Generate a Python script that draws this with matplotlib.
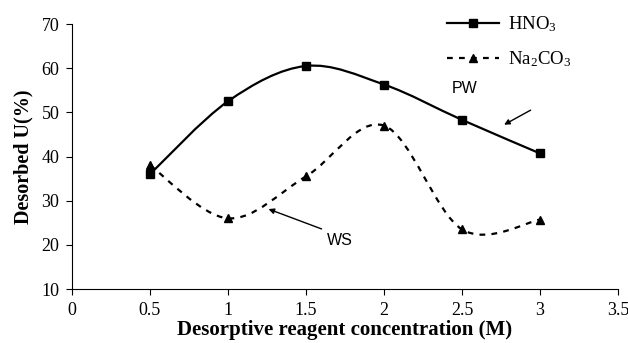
import matplotlib
matplotlib.use("Agg")
import matplotlib.pyplot as plt
import numpy as np
from matplotlib.path import Path
from matplotlib.patches import PathPatch

conc = [0.5, 1.0, 1.5, 2.0, 2.5, 3.0]
hno3 = [36.0, 52.5, 60.5, 56.3, 48.3, 40.7]
na2co3 = [38.0, 26.0, 35.5, 47.0, 23.5, 25.7]

x_ticks = [0, 0.5, 1, 1.5, 2, 2.5, 3, 3.5]
y_ticks = [10, 20, 30, 40, 50, 60, 70]

SERIF = ["Liberation Serif", "DejaVu Serif"]
SANS = ["Liberation Sans", "DejaVu Sans"]

plt.rcParams.update({
    "mathtext.fontset": "custom",
    "mathtext.rm": "Liberation Serif",
    "mathtext.it": "Liberation Serif:italic",
    "mathtext.bf": "Liberation Serif:bold",
})

DASH = (2.6, 2.8)


def smooth_path(x, y):
    """Excel-style smoothed line: cubic Bezier through every point."""
    pts = np.column_stack([x, y])
    n = len(pts)
    verts = [pts[0]]
    codes = [Path.MOVETO]
    for i in range(n - 1):
        p0 = pts[max(i - 1, 0)]
        p1 = pts[i]
        p2 = pts[i + 1]
        p3 = pts[min(i + 2, n - 1)]
        verts += [p1 + (p2 - p0) / 6.0, p2 - (p3 - p1) / 6.0, p2]
        codes += [Path.CURVE4] * 3
    return Path(verts, codes)


fig = plt.figure(figsize=(6.28, 3.43), dpi=100)
ax = fig.add_axes([0.1146, 0.1574, 0.8695, 0.7726])

ax.add_patch(PathPatch(smooth_path(conc, hno3), fill=False, lw=1.6,
                       color="black", capstyle="butt"))
ax.add_patch(PathPatch(smooth_path(conc, na2co3), fill=False, lw=1.6,
                       color="black", linestyle=(0, DASH)))
ax.plot(conc, hno3, "s", color="black", ms=5.5)
ax.plot(conc, na2co3, "^", color="black", ms=6)

# legend proxies
ax.plot([], [], "-s", color="black", lw=1.6, ms=5.5, label="HNO$_3$")
ax.plot([], [], "--^", color="black", lw=1.6, ms=6, dashes=DASH,
        label="Na$_2$CO$_3$")
ax.legend(loc="upper left", bbox_to_anchor=(0.655, 1.10), frameon=False,
          handlelength=2.8, handletextpad=0.5, labelspacing=0.8,
          prop={"family": SERIF, "size": 13.5})

arrow = dict(arrowstyle="-|>", color="black", lw=1.0, shrinkA=0, shrinkB=0,
             mutation_scale=8)
ax.annotate("", xy=(2.77, 47.2), xytext=(2.94, 50.5), arrowprops=arrow)
ax.text(2.52, 55.5, "PW", fontsize=11.5, family=SANS, ha="center", va="center")
ax.annotate("", xy=(1.26, 28.1), xytext=(1.60, 23.6), arrowprops=arrow)
ax.text(1.72, 20.9, "WS", fontsize=11.5, family=SANS, ha="center", va="center")

ax.set_xlim(0, 3.5)
ax.set_ylim(10, 70)
ax.set_xticks(x_ticks)
ax.set_xticklabels([f"{t:g}" for t in x_ticks], family=SERIF, fontsize=13)
ax.set_yticks(y_ticks)
ax.set_yticklabels([str(t) for t in y_ticks], family=SERIF, fontsize=13)
ax.tick_params(direction="out", length=4, width=0.8, pad=5)
for s in ["top", "right"]:
    ax.spines[s].set_visible(False)
for s in ["left", "bottom"]:
    ax.spines[s].set_linewidth(0.8)

ax.set_xlabel("Desorptive reagent concentration (M)", family=SERIF,
              fontsize=15, fontweight="bold", labelpad=1)
ax.set_ylabel("Desorbed U(%)", family=SERIF, fontsize=14.5,
              fontweight="bold", labelpad=6)

fig.savefig("out.png", dpi=100)
